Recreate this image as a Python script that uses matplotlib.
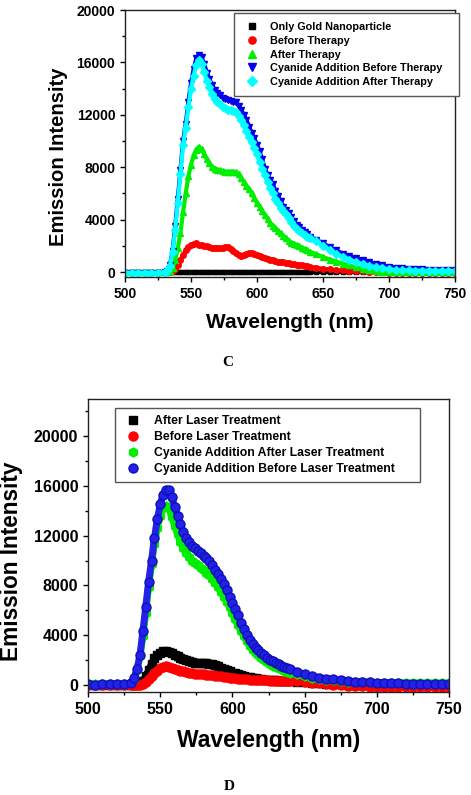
import numpy as np
import matplotlib
matplotlib.use('Agg')
import matplotlib.pyplot as plt
from matplotlib.ticker import MultipleLocator

plt.rcParams['font.family'] = ['Liberation Sans', 'DejaVu Sans']
plt.rcParams['font.weight'] = 'bold'
plt.rcParams['axes.labelweight'] = 'bold'

# wavelength grid (nm): coarse on the flat parts, 2 nm over the band
wl = np.r_[500:526:5, 530:641:2, 645:751:5]

# ---- panel C ----
gold_only = [0, 0, 0, 0, 0, 0,
             0, 0, 0, 0, 0, 0, 0, 0, 0, 0,
             0, 0, 0, 0, 0, 0, 0, 0, 0, 0,
             0, 0, 0, 0, 0, 0, 0, 0, 0, 0,
             0, 0, 0, 0, 0, 0, 0, 0, 0, 0,
             0, 0, 0, 0, 0, 0, 0, 0, 0, 0,
             0, 0, 0, 0, 0, 0,
             0, 0, 0, 0, 0, 0, 0, 0, 0, 0, 0, 0, 0, 0, 0, 0, 0, 0, 0, 0, 0, 0]
before_ther = [0, 0, 0, 0, 0, 0,
               0, 0, 0, 50, 200, 500, 900, 1300, 1650, 1900,
               2050, 2150, 2200, 2100, 2050, 2000, 1950, 1900, 1850, 1800,
               1850, 1800, 1850, 1900, 1900, 1750, 1600, 1450, 1300, 1250,
               1300, 1350, 1450, 1450, 1400, 1300, 1200, 1150, 1050, 1000,
               950, 900, 850, 800, 780, 740, 700, 670, 640, 600,
               560, 530, 500, 470, 430, 400,
               320, 250, 200, 150, 120, 80, 60, 40, 20, 0, -20, -40, -40, -50,
               -40, -50, -40, -50, -40, -50, -40, -50]
after_ther = [0, 0, 0, 0, 0, 0,
              0, 0, 50, 300, 900, 1800, 3000, 4600, 6000, 7300,
              8200, 8900, 9350, 9550, 9400, 9000, 8600, 8300, 8050, 7900,
              7800, 7750, 7700, 7650, 7650, 7650, 7650, 7600, 7500, 7200,
              6900, 6600, 6300, 6000, 5650, 5300, 5000, 4650, 4350, 4050,
              3750, 3550, 3350, 3150, 2950, 2750, 2600, 2400, 2250, 2150,
              2050, 1950, 1850, 1750, 1650, 1550,
              1350, 1150, 950, 800, 650, 500, 350, 250, 150, 80, 30, 0, 0, 0,
              0, 0, 0, 0, 0, 0, 0, 0]
cn_before_ther = [-50, -40, -50, -50, -40, -50,
                  0, 100, 500, 1600, 3500, 5600, 7800, 10000, 11300, 13000,
                  14400, 15500, 16300, 16600, 16400, 15900, 15200, 14700, 14300, 13900,
                  13700, 13500, 13300, 13200, 13100, 13050, 13000, 12950, 12700, 12400,
                  12000, 11600, 11100, 10600, 10200, 9700, 9200, 8600, 7900, 7400,
                  7000, 6700, 6200, 5800, 5400, 5000, 4700, 4500, 4200, 3900,
                  3600, 3400, 3200, 3050, 2900, 2700,
                  2450, 2200, 1900, 1650, 1400, 1200, 1050, 900, 750, 600, 500, 400,
                  330, 280, 250, 220, 200, 180, 160, 150, 140, 130]
cn_after_ther = [-50, -60, -50, -50, -60, -50,
                 0, 100, 450, 1500, 3200, 5300, 7500, 9700, 11000, 12600,
                 14000, 15000, 15800, 16200, 15900, 15300, 14600, 14100, 13600, 13200,
                 13000, 12800, 12600, 12500, 12400, 12350, 12300, 12200, 11900, 11600,
                 11200, 10800, 10300, 9900, 9500, 9000, 8400, 7900, 7400, 6900,
                 6400, 6000, 5600, 5250, 4900, 4650, 4400, 4100, 3800, 3550,
                 3300, 3100, 2950, 2800, 2700, 2600,
                 2350, 2000, 1700, 1400, 1150, 950, 750, 600, 480, 380, 300, 200,
                 150, 130, 120, 110, 100, 100, 90, 90, 80, 80]

labels_c = ['Only Gold Nanoparticle', 'Before Therapy', 'After Therapy',
            'Cyanide Addition Before Therapy', 'Cyanide Addition After Therapy']

# ---- panel D ----
after_laser = [0, 0, 0, 0, 0, 0,
               0, 0, 20, 100, 350, 700, 1200, 1700, 2150, 2450,
               2600, 2700, 2700, 2650, 2550, 2400, 2300, 2200, 2100, 2000,
               1900, 1850, 1800, 1780, 1760, 1750, 1750, 1720, 1680, 1600,
               1500, 1400, 1300, 1200, 1100, 1000, 950, 880, 800, 740,
               680, 630, 580, 540, 500, 470, 440, 420, 400, 380,
               370, 350, 340, 320, 300, 290,
               260, 220, 180, 140, 110, 80, 60, 40, 20, 0, 0, 0, 0, 0,
               0, 0, 0, 0, 0, 0, 0, 0]
before_laser = [0, 0, 0, 0, 0, 0,
                0, 0, 0, 30, 100, 250, 450, 700, 950, 1150,
                1350, 1450, 1500, 1480, 1400, 1300, 1200, 1150, 1100, 1050,
                1000, 950, 920, 900, 870, 850, 820, 800, 780, 750,
                720, 690, 660, 630, 600, 570, 540, 520, 500, 480,
                460, 440, 420, 410, 400, 390, 380, 370, 360, 360,
                350, 350, 350, 340, 340, 330,
                320, 280, 200, 130, 80, 40, 0, -50, -80, -100, -120, -150, -150, -150,
                -150, -150, -150, -150, -150, -150, -150, -150]
cn_after_laser = [100, 100, 100, 100, 100, 100,
                  150, 500, 1200, 2300, 3900, 5800, 7900, 9700, 11300, 12600,
                  13600, 14200, 14400, 14200, 13500, 12800, 12100, 11500, 11000, 10600,
                  10300, 10000, 9800, 9600, 9400, 9200, 9000, 8800, 8500, 8200,
                  7900, 7500, 7100, 6700, 6300, 5800, 5300, 4800, 4300, 3900,
                  3500, 3100, 2850, 2600, 2400, 2200, 2000, 1850, 1700, 1550,
                  1450, 1350, 1250, 1150, 1050, 1000,
                  850, 700, 600, 500, 420, 370, 320, 280, 250, 230, 210, 200,
                  200, 200, 190, 190, 180, 180, 180, 170, 170, 170]
cn_before_laser = [50, 40, 50, 60, 50, 50,
                   200, 600, 1300, 2400, 4300, 6300, 8300, 10000, 11800, 13300,
                   14500, 15300, 15700, 15700, 15100, 14300, 13600, 12900, 12300, 11800,
                   11500, 11200, 11000, 10800, 10600, 10400, 10200, 9950, 9600, 9250,
                   8900, 8500, 8100, 7600, 7100, 6600, 6100, 5600, 5000, 4500,
                   4000, 3600, 3300, 3000, 2800, 2600, 2400, 2200, 2000, 1900,
                   1750, 1650, 1550, 1450, 1350, 1250,
                   1050, 850, 700, 600, 500, 450, 380, 320, 280, 250, 220, 200,
                   180, 160, 140, 120, 110, 100, 90, 80, 70, 60]

labels_d = ['After Laser Treatment', 'Before Laser Treatment',
            'Cyanide Addition After Laser Treatment',
            'Cyanide Addition Before Laser Treatment']


def band(ax, y, color, marker, ms, lw, label, mec=None):
    # thick line keeps the band closed, markers give the scatter look
    ax.plot(wl, y, color=color, lw=lw, solid_joinstyle='round')
    ax.plot(wl, y, ls='none', marker=marker, ms=ms, color=color,
            mec=mec or color, label=label)


def style_axes(ax, fs):
    ax.set_xlim(500, 750)
    ax.xaxis.set_major_locator(MultipleLocator(50))
    ax.xaxis.set_minor_locator(MultipleLocator(25))
    ax.yaxis.set_major_locator(MultipleLocator(4000))
    ax.yaxis.set_minor_locator(MultipleLocator(2000))
    ax.tick_params(which='major', direction='out', length=3.5, width=1,
                   labelsize=fs, top=False, right=False)
    ax.tick_params(which='minor', direction='out', length=2, width=1,
                   top=False, right=False)
    for s in ax.spines.values():
        s.set_linewidth(1.0)
        s.set_color('#222222')


fig = plt.figure(figsize=(4.71, 7.95), dpi=100)

# panel C
ax1 = fig.add_axes([125 / 471, 1 - 277 / 795, 330 / 471, 267 / 795])
band(ax1, gold_only, 'black', 's', 3.5, 2.5, labels_c[0])
band(ax1, before_ther, '#ff0000', 'o', 4, 3, labels_c[1])
band(ax1, after_ther, '#00ee00', '^', 4.5, 3, labels_c[2])
band(ax1, cn_before_ther, '#0000ee', 'v', 4.5, 3, labels_c[3])
band(ax1, cn_after_ther, '#00ffff', 'D', 3.8, 3, labels_c[4])
ax1.set_ylim(-380, 20000)
style_axes(ax1, 10)
ax1.set_xlabel('Wavelength (nm)', fontsize=15, labelpad=8.5)
ax1.set_ylabel('Emission Intensity', fontsize=14.6)
ax1.yaxis.set_label_coords(-0.173, 0.45)
ax1.legend(loc='upper left', mode='expand',
           bbox_to_anchor=(234 / 471, 1 - 95 / 795, 225 / 471, 82 / 795),
           bbox_transform=fig.transFigure, fontsize=7.8, frameon=True,
           fancybox=False, edgecolor='#555555', framealpha=1,
           borderpad=0.85, labelspacing=0.34, handlelength=1.7,
           handletextpad=0.75, borderaxespad=0, markerscale=1.3)

# panel D
ax2 = fig.add_axes([88 / 471, 1 - 692 / 795, 361 / 471, 293 / 795])
band(ax2, after_laser, 'black', 's', 6, 5, labels_d[0])
band(ax2, before_laser, '#ff0000', 'o', 6.5, 5, labels_d[1])
band(ax2, cn_after_laser, '#00ee00', 'h', 6.5, 5, labels_d[2])
band(ax2, cn_before_laser, '#2222e8', 'o', 6.5, 5, labels_d[3], mec='#1010b8')
ax2.set_ylim(-560, 22970)
style_axes(ax2, 11.5)
ax2.set_xlabel('Wavelength (nm)', fontsize=16.5, labelpad=9)
ax2.set_ylabel('Emission Intensity', fontsize=16.3)
ax2.yaxis.set_label_coords(-0.18, 0.447)
ax2.legend(loc='upper left', mode='expand',
           bbox_to_anchor=(115 / 471, 1 - 482 / 795, 305 / 471, 74 / 795),
           bbox_transform=fig.transFigure, fontsize=8.8, frameon=True,
           fancybox=False, edgecolor='#555555', framealpha=1,
           borderpad=0.6, labelspacing=0.32, handlelength=1.76,
           handletextpad=0.84, borderaxespad=0, markerscale=1.0)

fig.text(228 / 471, 1 - 362 / 795, 'C', family='Liberation Serif',
         weight='bold', fontsize=11, ha='center', va='center')
fig.text(229 / 471, 1 - 787 / 795, 'D', family='Liberation Serif',
         weight='bold', fontsize=11, ha='center', va='center')

fig.savefig('out.png', dpi=100)
